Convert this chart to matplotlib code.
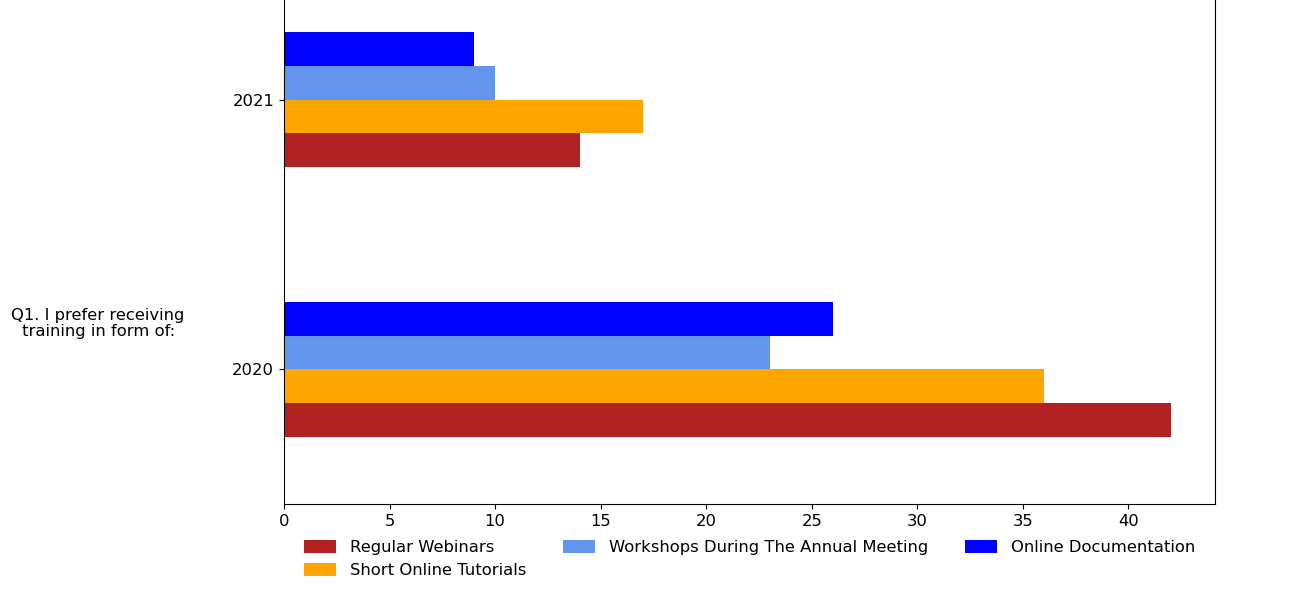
import matplotlib
matplotlib.use("Agg")
import matplotlib.pyplot as plt
import numpy as np

years = ["2020", "2021"]
series = ["Regular Webinars", "Short Online Tutorials",
          "Workshops During The Annual Meeting", "Online Documentation"]
regular_webinars = [42, 14]
short_tutorials = [36, 17]
workshops = [23, 10]
online_docs = [26, 9]
colors = ["#B22222", "#FFA500", "#6495ED", "#0000FF"]

values = [regular_webinars, short_tutorials, workshops, online_docs]

fig = plt.figure(figsize=(12.99, 5.94), dpi=100)
ax = fig.add_axes([0.2186, 0.1515, 0.7167, 0.9074])

h = 0.125
y = np.arange(len(years))
for i, (name, vals, c) in enumerate(zip(series, values, colors)):
    ax.barh(y - 0.25 + h / 2 + i * h, vals, height=h, color=c, label=name)

ax.set_ylim(-0.5, 1.5)
ax.set_xlim(0, 44.1)
ax.set_yticks(y)
ax.set_yticklabels(years)
ax.set_xticks(range(0, 45, 5))
ax.tick_params(labelsize=11.8)

fig.text(0.0755, 0.455, "Q1. I prefer receiving\ntraining in form of:",
         ha="center", va="center", fontsize=11.8, linespacing=1.1)

fig.legend(loc="upper left", bbox_to_anchor=(0.2286, 0.1017), ncol=3,
           frameon=False, fontsize=11.8, handlelength=2.0, handleheight=0.8,
           columnspacing=2.2, borderaxespad=0, labelspacing=0.5,
           handletextpad=0.85)

fig.savefig("out.png", dpi=100)
